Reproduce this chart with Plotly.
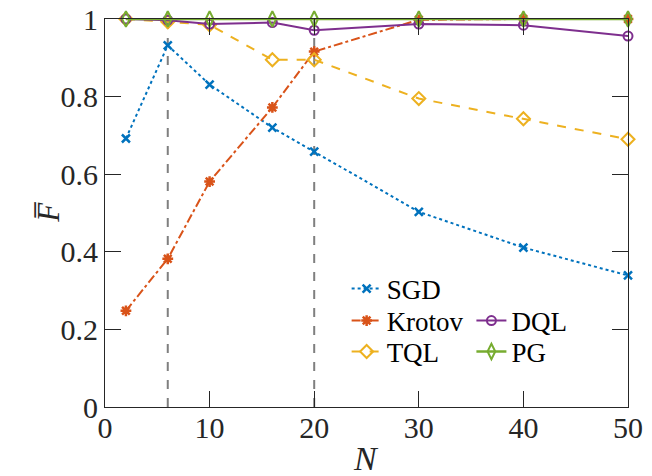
import plotly.graph_objects as go

N = [2, 6, 10, 16, 20, 30, 40, 50]
sgd = [0.692, 0.932, 0.831, 0.720, 0.658, 0.503, 0.411, 0.339]
krotov = [0.248, 0.382, 0.581, 0.772, 0.916, 0.998, 1.0, 1.0]
tql = [1.0, 0.993, 0.985, 0.895, 0.895, 0.795, 0.743, 0.690]
dql = [1.0, 0.997, 0.987, 0.991, 0.971, 0.987, 0.984, 0.956]
pg = [1.0, 1.0, 1.0, 1.0, 1.0, 1.0, 1.0, 1.0]
vlines = [6, 20]

FONT = "Liberation Serif"
TXT = "#262626"
fig = go.Figure()

for xv in vlines:
    fig.add_trace(go.Scatter(x=[xv, xv], y=[0, 1], mode="lines",
                             line=dict(color="#7f7f7f", width=2, dash="dash"),
                             showlegend=False, hoverinfo="skip", cliponaxis=False))

fig.add_trace(go.Scatter(x=N, y=sgd, name="SGD", mode="lines+markers",
                         line=dict(color="#0072BD", width=2, dash="dot"),
                         marker=dict(symbol="x-thin-open", size=8,
                                     line=dict(color="#0072BD", width=2.5)),
                         legend="legend", cliponaxis=False))
fig.add_trace(go.Scatter(x=N, y=krotov, name="Krotov", mode="lines+markers",
                         line=dict(color="#D95319", width=2, dash="dashdot"),
                         marker=dict(symbol="asterisk-open", size=9,
                                     line=dict(color="#D95319", width=2.5)),
                         legend="legend2", cliponaxis=False))
fig.add_trace(go.Scatter(x=N, y=tql, name="TQL", mode="lines+markers",
                         line=dict(color="#EDB120", width=2, dash="dash"),
                         marker=dict(symbol="diamond-open", size=10,
                                     line=dict(color="#EDB120", width=2)),
                         legend="legend3", cliponaxis=False))
fig.add_trace(go.Scatter(x=N, y=dql, name="DQL", mode="lines+markers",
                         line=dict(color="#7E2F8E", width=2),
                         marker=dict(symbol="circle-open", size=9,
                                     line=dict(color="#7E2F8E", width=2)),
                         legend="legend4", cliponaxis=False))
fig.add_trace(go.Scatter(x=N, y=pg, name="PG", mode="lines+markers",
                         line=dict(color="#77AC30", width=2.5),
                         marker=dict(symbol="diamond-tall-open", size=11,
                                     line=dict(color="#77AC30", width=2)),
                         legend="legend5", cliponaxis=False))

axis_common = dict(showline=True, linecolor=TXT, linewidth=1,
                   mirror="ticks", ticks="inside", ticklen=16, tickwidth=1,
                   tickcolor=TXT, showgrid=False, zeroline=False, automargin=False,
                   tickfont=dict(family=FONT, size=30, color=TXT))

fig.update_xaxes(range=[0, 50], tickvals=[0, 10, 20, 30, 40, 50],
                 ticktext=["0", "10", "20", "30", "40", "50"],
                 ticklabelstandoff=-6, **axis_common)
fig.update_yaxes(range=[0, 1], tickvals=[0, 0.2, 0.4, 0.6, 0.8, 1.0],
                 ticktext=["0", "0.2", "0.4", "0.6", "0.8", "1"], **axis_common)

fig.add_annotation(text="<i>F\u0305</i>", xref="paper", yref="paper",
                   x=-0.145, y=0.5026, showarrow=False, textangle=-90,
                   font=dict(family=FONT, size=31, color=TXT))
fig.add_annotation(text="<i>N</i>", xref="paper", yref="paper",
                   x=0.499, y=-0.185, showarrow=False, yanchor="bottom",
                   font=dict(family=FONT, size=34, color=TXT))

legfont = dict(family=FONT, size=27, color="black")
def leg(x, y):
    return dict(x=x, y=y, xanchor="left", yanchor="middle",
                bgcolor="rgba(0,0,0,0)", font=legfont, tracegroupgap=0,
                itemwidth=30)

c1 = 0.462
c2 = 0.7006
fig.update_layout(
    width=652, height=476,
    font=dict(family=FONT, color=TXT),
    margin=dict(l=105, r=24, t=19, b=69, autoexpand=False),
    paper_bgcolor="white", plot_bgcolor="white",
    legend=leg(c1, 0.304),
    legend2=leg(c1, 0.2216),
    legend3=leg(c1, 0.1418),
    legend4=leg(c2, 0.2216),
    legend5=leg(c2, 0.1418),
)

fig.write_html("out.html")
